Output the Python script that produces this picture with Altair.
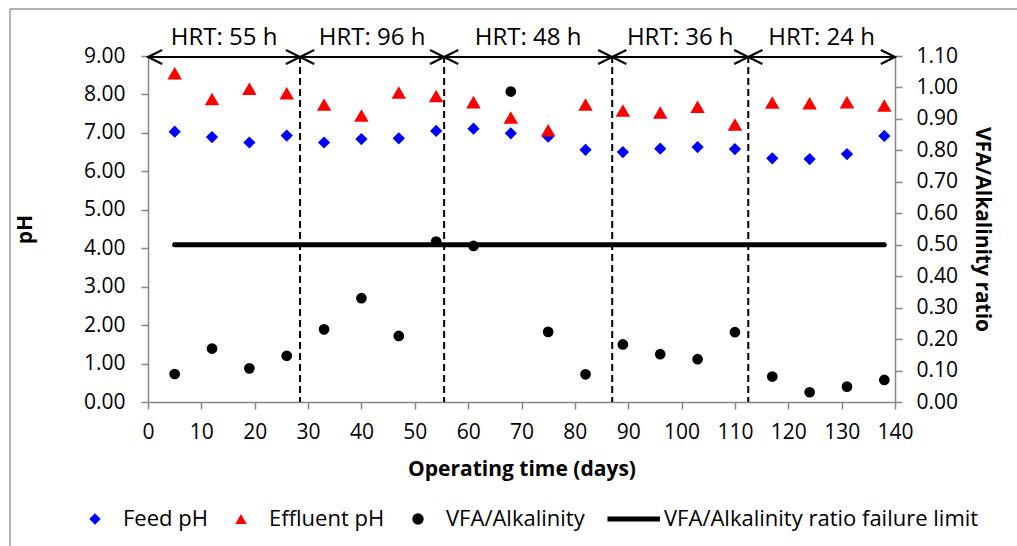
import altair as alt
import pandas as pd

# ---------------- data ----------------
days = [5, 12, 19, 26, 33, 40, 47, 54, 61, 68, 75, 82, 89, 96, 103, 110, 117, 124, 131, 138]
feed_ph = [7.03, 6.89, 6.75, 6.93, 6.75, 6.84, 6.86, 7.05, 7.11, 6.99, 6.90, 6.56,
           6.50, 6.59, 6.63, 6.58, 6.34, 6.32, 6.45, 6.92]
effluent_ph = [8.55, 7.88, 8.15, 8.03, 7.74, 7.45, 8.05, 7.96, 7.80, 7.40, 7.07, 7.74,
               7.58, 7.53, 7.68, 7.22, 7.79, 7.77, 7.80, 7.71]
vfa_alk = [0.089, 0.170, 0.107, 0.147, 0.231, 0.330, 0.210, 0.510, 0.496, 0.987, 0.223, 0.088,
           0.183, 0.152, 0.136, 0.222, 0.081, 0.031, 0.049, 0.070]
failure_limit = 0.50

hrt_labels = ["HRT: 55 h", "HRT: 96 h", "HRT: 48 h", "HRT: 36 h", "HRT: 24 h"]
hrt_start = [0, 28.5, 55.5, 87, 112.5]
hrt_end = [28.5, 55.5, 87, 112.5, 140]
boundaries = [28.5, 55.5, 87, 112.5]

x_ticks = list(range(0, 141, 10))
ph_ticks = [0, 1, 2, 3, 4, 5, 6, 7, 8, 9]
ratio_ticks = [0.0, 0.1, 0.2, 0.3, 0.4, 0.5, 0.6, 0.7, 0.8, 0.9, 1.0, 1.1]

series = ["Feed pH", "Effluent pH", "VFA/Alkalinity", "VFA/Alkalinity ratio failure limit"]
colors = ["#0000FF", "#FF0000", "#000000", "#000000"]
BAR = "M-5,-0.42L4.2,-0.42L4.2,0.42L-5,0.42Z"
shapes = ["diamond", "triangle-up", "circle", BAR]

# ---------------- tables ----------------
ph_df = pd.DataFrame({
    "day": days * 2,
    "value": feed_ph + effluent_ph,
    "series": ["Feed pH"] * len(days) + ["Effluent pH"] * len(days),
})
vfa_df = pd.DataFrame({"day": days, "value": vfa_alk, "series": ["VFA/Alkalinity"] * len(days)})
limit_df = pd.DataFrame({"day": [days[0], days[-1]], "value": [failure_limit, failure_limit]})
hrt_df = pd.DataFrame({"label": hrt_labels, "start": hrt_start, "end": hrt_end})
bnd_df = pd.DataFrame({"b": boundaries})
one = pd.DataFrame({"k": [0]})

W, H = 747, 346
PAD = {"left": 148, "top": 56, "right": 122, "bottom": 144}
FONT = "Open Sans"
GRAY = "#868686"

x_axis = alt.Axis(values=x_ticks, grid=False, domainColor=GRAY, tickColor=GRAY, tickSize=7,
                  domainWidth=1.5, tickWidth=1.5, labelFontSize=21, labelColor="black",
                  labelPadding=12, labelOverlap=False, labelFlush=False,
                  titleFontSize=21, titleFontWeight="bold", titleColor="black",
                  titlePadding=16, labelFont=FONT, titleFont=FONT)
x_scale = alt.Scale(domain=[0, 140], nice=False, zero=False)
X_TITLE = "Operating time (days)"


def X(field):
    return alt.X(field, type="quantitative", scale=x_scale, axis=x_axis, title=X_TITLE)


def legend():
    return alt.Legend(title=None, orient="none", direction="horizontal",
                      legendX=-64, legendY=452, symbolSize=130,
                      labelFontSize=22, labelFont=FONT, labelColor="black", labelLimit=0,
                      columnPadding=22, labelOffset=17, symbolStrokeWidth=0,
                      symbolOpacity=1, padding=0)


color_enc = alt.Color("series:N", scale=alt.Scale(domain=series, range=colors), legend=legend())
shape_enc = alt.Shape("series:N", scale=alt.Scale(domain=series, range=shapes), legend=legend())

y_left = alt.Y("value:Q", scale=alt.Scale(domain=[0, 9], nice=False, zero=True),
               axis=alt.Axis(values=ph_ticks, format=".2f", grid=False, domainColor=GRAY,
                             tickColor=GRAY, tickSize=7, domainWidth=1.5, tickWidth=1.5,
                             labelFontSize=21, labelColor="black", labelPadding=16,
                             labelOverlap=False,
                             titleFontSize=21, titleFontWeight="bold", titleColor="black",
                             titlePadding=48, labelFont=FONT, titleFont=FONT),
               title="pH")
y_right = alt.Y("value:Q", scale=alt.Scale(domain=[0, 1.1], nice=False, zero=True),
                axis=alt.Axis(orient="right", values=ratio_ticks, format=".2f", grid=False,
                              domainColor=GRAY, tickColor=GRAY, tickSize=7, domainWidth=1.5,
                              tickWidth=1.5, labelFontSize=21, labelColor="black",
                              labelPadding=14, labelOverlap=False, titleFontSize=21,
                              titleFontWeight="bold", titleColor="black", titlePadding=14,
                              labelFont=FONT, titleFont=FONT),
                title="VFA/Alkalinity ratio")

# ---------------- left (pH) layer ----------------
frame_left = alt.Chart(one).mark_rule(color="#9a9a9a", strokeWidth=1.5).encode(
    x=alt.value(-138), y=alt.value(-47), y2=alt.value(H + PAD["bottom"] + 10))
frame_top = alt.Chart(one).mark_rule(color="#9a9a9a", strokeWidth=1.5).encode(
    x=alt.value(-138), x2=alt.value(W + PAD["right"] + 10), y=alt.value(-47))

dashes = alt.Chart(bnd_df).mark_rule(color="black", strokeWidth=2, strokeDash=[7, 4]).encode(
    x=X("b"), y=alt.value(0), y2=alt.value(H))

arrow_line = alt.Chart(hrt_df).mark_rule(color="black", strokeWidth=2.2).encode(
    x=X("start"), x2=alt.X2("end"), y=alt.value(1))
head_l = alt.Chart(hrt_df).mark_point(shape="M1,-0.5L0,0L1,0.5", size=800, filled=False,
                                      stroke="black", strokeWidth=2.2, opacity=1).encode(
    x=X("start"), y=alt.value(1))
head_r = alt.Chart(hrt_df).mark_point(shape="M-1,-0.5L0,0L-1,0.5", size=800, filled=False,
                                      stroke="black", strokeWidth=2.2, opacity=1).encode(
    x=X("end"), y=alt.value(1))
hrt_text = alt.Chart(hrt_df).transform_calculate(mid="(datum.start + datum.end) / 2").mark_text(
    fontSize=24, font=FONT, color="black", baseline="middle", align="center").encode(
    x=X("mid"), y=alt.value(-18), text="label:N")

feed_points = alt.Chart(ph_df).transform_filter(alt.datum.series == "Feed pH").mark_point(
    filled=True, opacity=1, strokeWidth=0, size=150).encode(
    x=X("day"), y=y_left, color=color_enc, shape=shape_enc)
eff_points = alt.Chart(ph_df).transform_filter(alt.datum.series == "Effluent pH").mark_point(
    filled=True, opacity=1, strokeWidth=0, size=210).encode(
    x=X("day"), y=y_left, color=color_enc, shape=shape_enc)

left = alt.layer(frame_left, frame_top, dashes, feed_points, eff_points,
                 arrow_line, head_l, head_r, hrt_text)

# ---------------- right (ratio) layer ----------------
limit_line = alt.Chart(limit_df).mark_line(color="black", strokeWidth=5, strokeCap="round").encode(
    x=X("day"), y=y_right)
vfa_points = alt.Chart(vfa_df).mark_point(filled=True, opacity=1, strokeWidth=0, size=115).encode(
    x=X("day"), y=y_right, color=color_enc, shape=shape_enc)
right = alt.layer(limit_line, vfa_points)

chart = alt.layer(left, right).resolve_scale(y="independent").properties(
    width=W, height=H, padding=PAD, autosize=alt.AutoSizeParams(type="none"),
    background="white",
).configure_view(stroke=None).configure(font=FONT)

chart.save("out.html", embed_options={"renderer": "svg", "actions": False})
